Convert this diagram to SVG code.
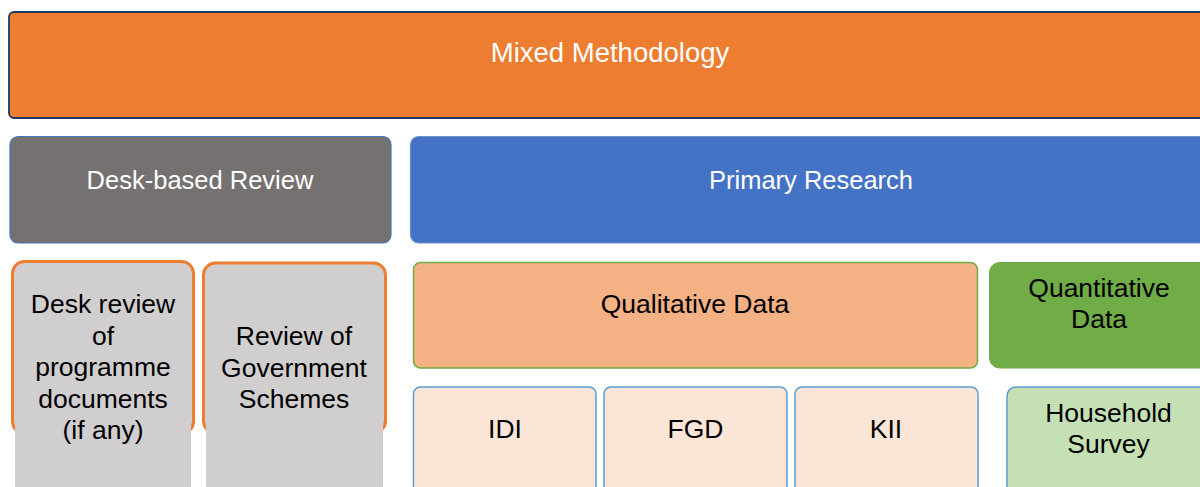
<svg xmlns="http://www.w3.org/2000/svg" width="1200" height="487" viewBox="0 0 1200 487">
<style>
text{font-family:"Liberation Sans",Arial,sans-serif;font-size:26.5px;text-anchor:middle}
.w{fill:#ffffff}
.k{fill:#000000}
.desk{fill:#d0cece;stroke:#ed7d31;stroke-width:3}
.deskfill{fill:#d0cece}
.qual{fill:#fbe5d6;stroke:#5b9bd5;stroke-width:1.5}
</style>
<rect width="1200" height="487" fill="#ffffff"/>
<g id="mixed-methodology">
<rect x="9" y="12" width="1210" height="106" rx="5" fill="#ed7d31" stroke="#1f3864" stroke-width="1.8"/>
<text class="w" x="610" y="62" style="font-size:27.5px">Mixed Methodology</text>
</g>
<g id="desk-based-review">
<rect x="10" y="136.5" width="381" height="106.5" rx="8" fill="#767171" stroke="#4472c4" stroke-width="1.2"/>
<text class="w" x="200" y="189" style="font-size:25.5px">Desk-based Review</text>
</g>
<g id="primary-research">
<rect x="410.5" y="136.5" width="810" height="106.5" rx="8" fill="#4472c4" stroke="#6f92d4" stroke-width="1.2"/>
<text class="w" x="811" y="189" style="font-size:25.5px">Primary Research</text>
</g>
<g id="desk-review-docs">
<rect class="desk" x="12.5" y="261.5" width="181" height="172" rx="12"/>
<rect class="deskfill" x="15" y="400" width="176" height="87"/>
<text class="k" x="103" y="313">Desk review</text>
<text class="k" x="103" y="344.5">of</text>
<text class="k" x="103" y="376">programme</text>
<text class="k" x="103" y="407.5">documents</text>
<text class="k" x="103" y="439">(if any)</text>
</g>
<g id="review-gov-schemes">
<rect class="desk" x="203.5" y="263" width="182" height="170" rx="12"/>
<rect class="deskfill" x="206" y="400" width="177" height="87"/>
<text class="k" x="294" y="345">Review of</text>
<text class="k" x="294" y="376.5">Government</text>
<text class="k" x="294" y="408">Schemes</text>
</g>
<g id="qualitative-data">
<rect x="413.5" y="262.5" width="564" height="105.5" rx="7" fill="#f4b183" stroke="#70ad47" stroke-width="1.5"/>
<text class="k" x="695" y="313">Qualitative Data</text>
</g>
<g id="quantitative-data">
<rect x="989.5" y="262.5" width="230" height="105.5" rx="10" fill="#70ad47" stroke="#70ad47" stroke-width="1"/>
<text class="k" x="1099" y="297">Quantitative</text>
<text class="k" x="1099" y="328">Data</text>
</g>
<g id="idi">
<rect class="qual" x="413.5" y="387" width="182.5" height="120" rx="7"/>
<text class="k" x="505" y="438">IDI</text>
</g>
<g id="fgd">
<rect class="qual" x="604" y="387" width="183" height="120" rx="7"/>
<text class="k" x="695.5" y="438">FGD</text>
</g>
<g id="kii">
<rect class="qual" x="795" y="387" width="183" height="120" rx="7"/>
<text class="k" x="886" y="438">KII</text>
</g>
<g id="household-survey">
<rect x="1007" y="387" width="220" height="120" rx="9" fill="#c5e0b4" stroke="#5b9bd5" stroke-width="1.5"/>
<text class="k" x="1108.5" y="422">Household</text>
<text class="k" x="1108.5" y="453">Survey</text>
</g>
</svg>
